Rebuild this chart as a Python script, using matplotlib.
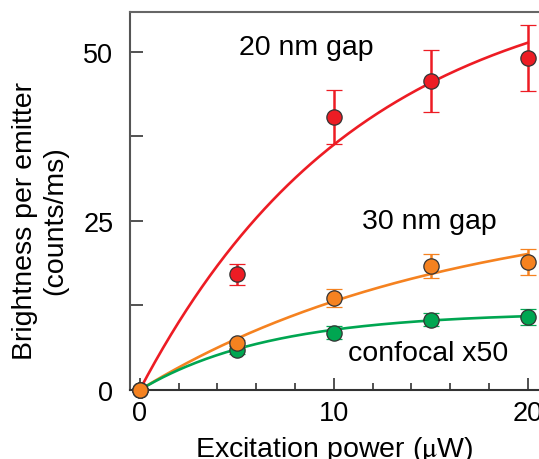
import numpy as np
import matplotlib
matplotlib.use("Agg")
import matplotlib.pyplot as plt

plt.rcParams['font.family'] = ['Liberation Sans', 'DejaVu Sans']
plt.rcParams['mathtext.fontset'] = 'stix'

# measured points
power = [0, 5, 10, 15, 20]
gap20 = [0, 17.1, 40.4, 45.7, 49.1]
gap20_err = [0, 1.6, 4.0, 4.6, 4.9]
gap30 = [0, 6.95, 13.6, 18.3, 18.9]
gap30_err = [0, 0.5, 1.3, 1.8, 1.9]
confocal = [0, 5.95, 8.5, 10.4, 10.8]
confocal_err = [0, 0.6, 0.9, 1.0, 1.2]

# saturation fits y = A*(1-exp(-P/P0)), parameters
fit20 = (62.1, 11.4)
fit30 = (28.1, 15.9)
fit_conf = (11.5, 6.7)

red = '#ED1C24'
orange = '#F58220'
green = '#00A651'

fig = plt.figure(figsize=(5.39, 4.6), dpi=100)
ax = fig.add_axes([130/539, 1-391/460, 409/539, 378/460])

p = np.linspace(0, 20, 200)
for (A, P0), col in [(fit20, red), (fit30, orange), (fit_conf, green)]:
    ax.plot(p, A*(1-np.exp(-p/P0)), color=col, lw=1.9, zorder=2)

for y, e, col in [(gap20, gap20_err, red), (confocal, confocal_err, green), (gap30, gap30_err, orange)]:
    ax.errorbar(power, y, yerr=e, fmt='o', color=col, ecolor=col, elinewidth=1.8,
                capsize=5.5, capthick=1.8, ms=11, mfc=col, mec='#333333', mew=0.9,
                clip_on=False, zorder=3)

ax.set_xlim(-0.5, 20.58)
ax.set_ylim(0, 55.9)
ax.set_xticks([0, 10, 20])
ax.set_xticks(np.arange(0, 21, 2), minor=True)
ax.set_yticks([0, 25, 50])
ax.set_yticks([12.5, 37.5], minor=True)

ax.tick_params(axis='x', which='major', direction='in', length=9, width=1.2, pad=7, labelsize=19.5, color='#333333')
ax.tick_params(axis='x', which='minor', direction='in', length=5, width=1.2, color='#333333')
ax.tick_params(axis='y', which='both', direction='in', length=9.5, width=1.2, pad=12, labelsize=19.5, color='#333333')

ax.spines['right'].set_visible(False)
for s in ['top', 'left', 'bottom']:
    ax.spines[s].set_linewidth(1.5)
ax.spines['top'].set_color('#666666')
ax.spines['left'].set_color('#555555')
ax.spines['bottom'].set_color('#333333')

ax.set_xlabel('Excitation power ($\\mathrm{\\mu}$W)', fontsize=20.5, labelpad=6)

fig.text(40/539, 1-221/460, 'Brightness per emitter\n(counts/ms)', rotation=90,
         ha='center', va='center', fontsize=20.5, multialignment='center')
fig.text(306/539, 1-48/460, '20 nm gap', fontsize=20.5, ha='center', va='center')
fig.text(429/539, 1-222/460, '30 nm gap', fontsize=20.5, ha='center', va='center')
fig.text(428/539, 1-354/460, 'confocal x50', fontsize=20.5, ha='center', va='center')

fig.savefig('out.png', dpi=100)
